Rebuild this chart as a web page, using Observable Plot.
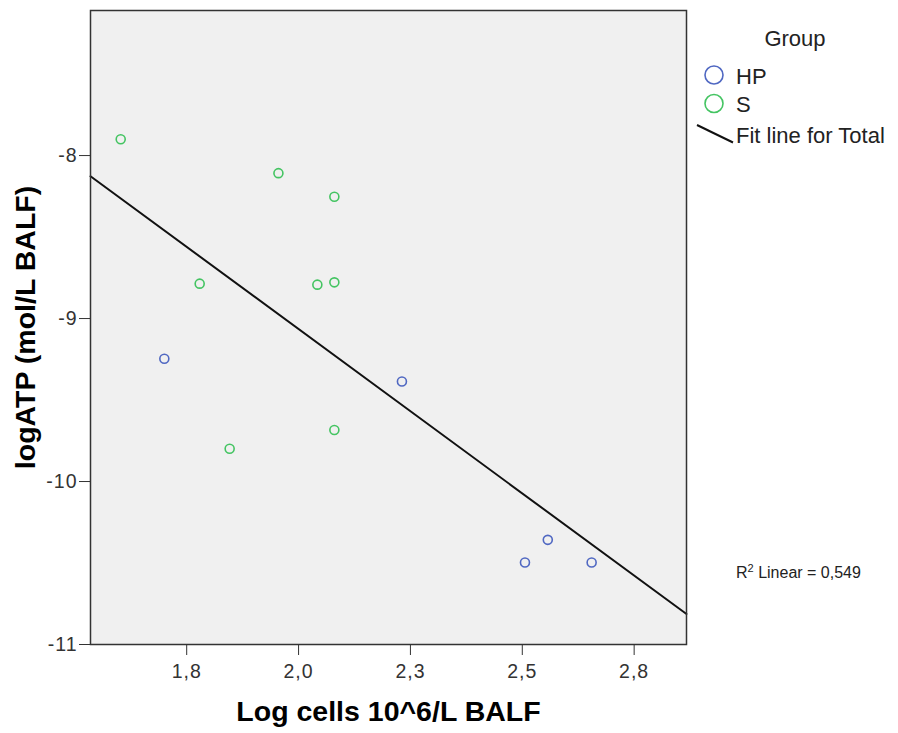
<!DOCTYPE html>
<html><head><meta charset="utf-8">
<script src="https://cdn.jsdelivr.net/npm/d3@7"></script>
<script src="https://cdn.jsdelivr.net/npm/@observablehq/plot@0.6"></script>
<style>
body{margin:0;background:#fff;}
svg{font-family:"Liberation Sans",Arial,sans-serif;}
</style>
</head><body><div id="chart"></div>
<script>
// ---- data ----
const groups = ["HP", "S"];
const hpX = [1.700, 2.231, 2.506, 2.557, 2.655];
const hpY = [-9.247, -9.386, -10.497, -10.358, -10.497];
const sX = [1.6025, 1.955, 2.080, 1.779, 2.042, 2.080, 1.846, 2.080];
const sY = [-7.900, -8.108, -8.253, -8.786, -8.792, -8.778, -9.799, -9.684];
const xTicks = [1.75, 2.0, 2.25, 2.5, 2.75];
const xTickLabels = ["1,8", "2,0", "2,3", "2,5", "2,8"];
const yTicks = [-8, -9, -10, -11];
const yTickLabels = ["-8", "-9", "-10", "-11"];
const xDomain = [1.535, 2.867];
const yDomain = [-11, -7.11];
const colors = ["#5068c2", "#44c462"];
const xTitle = "Log cells 10^6/L BALF";
const yTitle = "logATP (mol/L BALF)";
const legendTitle = "Group";
const fitLabel = "Fit line for Total";

// ---- build table ----
const data = [
  ...hpX.map((x, i) => ({x, y: hpY[i], g: groups[0]})),
  ...sX.map((x, i) => ({x, y: sY[i], g: groups[1]}))
];
// linear regression (total)
const mx = d3.mean(data, d => d.x), my = d3.mean(data, d => d.y);
let sxy = 0, sxx = 0, syy = 0;
for (const d of data) { sxy += (d.x - mx) * (d.y - my); sxx += (d.x - mx) ** 2; syy += (d.y - my) ** 2; }
const slope = sxy / sxx, intercept = my - slope * mx;
const r2 = (sxy * sxy) / (sxx * syy);
const fit = xDomain.map(x => ({x, y: intercept + slope * x}));

const plot = Plot.plot({
  width: 898, height: 733,
  marginLeft: 90, marginRight: 212, marginTop: 10, marginBottom: 89,
  style: {fontFamily: '"Liberation Sans", Arial, sans-serif', background: "#fff"},
  x: {domain: xDomain},
  y: {domain: yDomain},
  color: {domain: groups, range: colors},
  marks: [
    Plot.frame({fill: "#f0f0f0", stroke: null}),
    Plot.line(fit, {x: "x", y: "y", stroke: "#111", strokeWidth: 2}),
    Plot.dot(data, {x: "x", y: "y", stroke: "g", r: 4.5, strokeWidth: 1.6}),
    Plot.frame({stroke: "#333", strokeWidth: 1.5}),
    Plot.axisX({ticks: xTicks, tickFormat: d => xTickLabels[xTicks.indexOf(d)], label: null,
      tickSize: 11, tickPadding: 9, fontSize: 19.5, stroke: "#333", color: "#333"}),
    Plot.axisY({ticks: yTicks, tickFormat: d => yTickLabels[yTicks.indexOf(d)], label: null,
      tickSize: 11, tickPadding: 2, fontSize: 19.5, stroke: "#333", color: "#333"}),
    Plot.text([xTitle], {frameAnchor: "bottom", dy: 76, fontSize: 28.5, fontWeight: "bold", fill: "#000", textAnchor: "middle"}),
    Plot.text([yTitle], {frameAnchor: "left", dx: -65, rotate: -90, fontSize: 28.5, fontWeight: "bold", fill: "#000", textAnchor: "middle"})
  ]
});

const svg = d3.select(plot);
svg.selectAll("g[aria-label='x-axis tick label'] text, g[aria-label='y-axis tick label'] text").style("letter-spacing", "1px");
const lg = svg.append("g").attr("font-size", 22).attr("fill", "#222").attr("text-anchor", "start");
lg.append("text").attr("x", 795).attr("y", 38).attr("text-anchor", "middle").attr("dy", "0.35em").text(legendTitle);
groups.forEach((gname, i) => {
  const cy = 75 + i * 28.5;
  lg.append("circle").attr("cx", 714).attr("cy", cy).attr("r", 9).attr("fill", "none")
    .attr("stroke", colors[i]).attr("stroke-width", 1.6);
  lg.append("text").attr("x", 736).attr("y", cy + 1).attr("dy", "0.35em").text(gname);
});
lg.append("line").attr("x1", 697).attr("y1", 125).attr("x2", 733).attr("y2", 142.5)
  .attr("stroke", "#111").attr("stroke-width", 2);
lg.append("text").attr("x", 736).attr("y", 135).attr("dy", "0.35em").text(fitLabel);
const rt = svg.append("text").attr("x", 736).attr("y", 572).attr("dy", "0.35em")
  .attr("font-size", 16).attr("fill", "#222").attr("text-anchor", "start");
rt.append("tspan").text("R");
rt.append("tspan").attr("font-size", 11).attr("dy", "-0.55em").text("2");
rt.append("tspan").attr("dy", "0.4em").text(" Linear = " + d3.format(".3f")(r2).replace(".", ","));

document.getElementById("chart").append(plot);
</script>
</body></html>
